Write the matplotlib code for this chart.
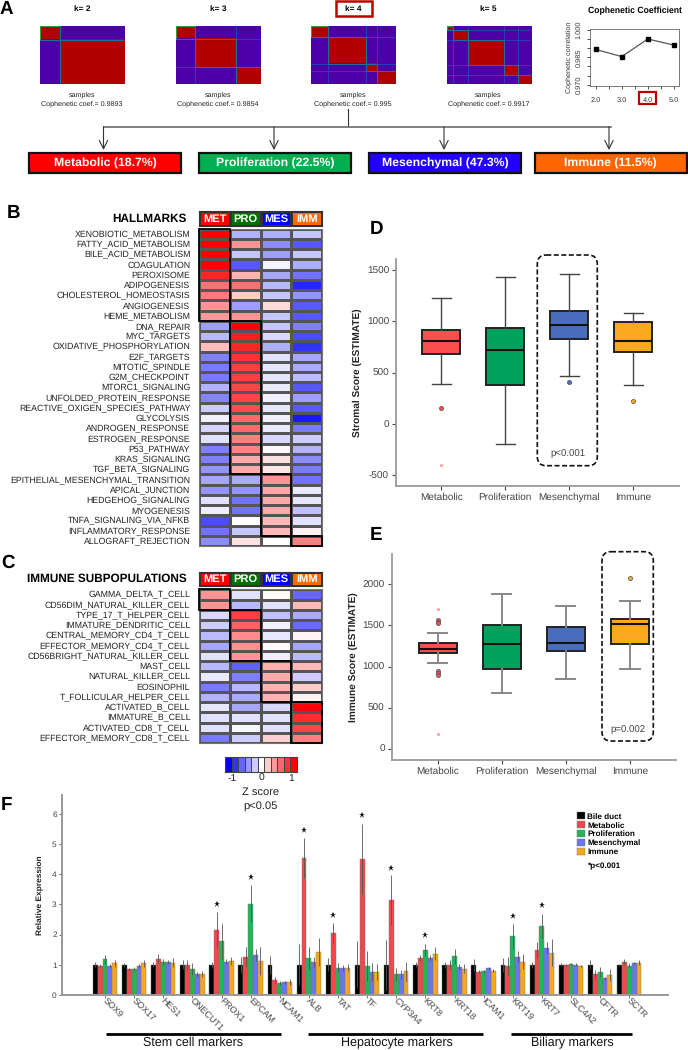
import numpy as np
import matplotlib
matplotlib.use('Agg')
import matplotlib.pyplot as plt
from matplotlib.colors import ListedColormap
from matplotlib.patches import Rectangle, FancyBboxPatch
from matplotlib.transforms import ScaledTranslation

plt.rcParams['font.family'] = ['Liberation Sans', 'DejaVu Sans']
plt.rcParams['axes.unicode_minus'] = False
plt.rcParams['text.hinting'] = 'none'

W, H = 688, 1050

# panel A
k_labels = ['k= 2', 'k= 3', 'k= 4', 'k= 5']
k_sizes = [[24, 76], [22, 49, 29], [20, 45, 13, 22], [8, 17, 43, 17, 15]]
coph_coef = [0.9893, 0.9854, 0.995, 0.9917]
coph_text = ['0.9893', '0.9854', '0.995', '0.9917']
coph_k = [2.0, 3.0, 4.0, 5.0]
subtypes = ['Metabolic', 'Proliferation', 'Mesenchymal', 'Immune']
subtype_pct = [18.7, 22.5, 47.3, 11.5]
subtype_colors = ['#ff0000', '#00b050', '#2200ff', '#ff6600']

# panels B and C
short_names = ['MET', 'PRO', 'MES', 'IMM']
header_colors = ['#ff0000', '#007000', '#0000ff', '#ff6a00']
hallmarks = ['XENOBIOTIC_METABOLISM', 'FATTY_ACID_METABOLISM', 'BILE_ACID_METABOLISM', 'COAGULATION',
             'PEROXISOME', 'ADIPOGENESIS', 'CHOLESTEROL_HOMEOSTASIS', 'ANGIOGENESIS', 'HEME_METABOLISM',
             'DNA_REPAIR', 'MYC_TARGETS', 'OXIDATIVE_PHOSPHORYLATION', 'E2F_TARGETS', 'MITOTIC_SPINDLE',
             'G2M_CHECKPOINT', 'MTORC1_SIGNALING', 'UNFOLDED_PROTEIN_RESPONSE',
             'REACTIVE_OXIGEN_SPECIES_PATHWAY', 'GLYCOLYSIS', 'ANDROGEN_RESPONSE', 'ESTROGEN_RESPONSE',
             'P53_PATHWAY', 'KRAS_SIGNALING', 'TGF_BETA_SIGNALING', 'EPITHELIAL_MESENCHYMAL_TRANSITION',
             'APICAL_JUNCTION', 'HEDGEHOG_SIGNALING', 'MYOGENESIS', 'TNFA_SIGNALING_VIA_NFKB',
             'INFLAMMATORY_RESPONSE', 'ALLOGRAFT_REJECTION']
hallmark_z = [[1.0, -.3, -.32, -.22], [1.0, .42, -.45, -.65], [1.0, -.22, -.38, -.22], [1.0, -.65, -.04, -.32],
              [.85, .3, -.35, -.55], [.55, .55, -.28, -.85], [.52, .2, -.22, -.42], [.42, -.38, .15, -.65],
              [.4, .42, -.22, -.65], [-.38, 1.0, -.22, -.5], [-.28, .88, -.15, -.7], [.25, .85, -.32, -.8],
              [-.5, .8, -.12, -.35], [-.52, .75, -.1, -.33], [-.52, .75, -.1, -.26], [-.3, .72, -.08, -.65],
              [-.48, .72, -.06, -.38], [-.2, .7, -.1, -.65], [-.05, .58, -.06, -.9], [-.17, .58, -.08, -.52],
              [-.12, .5, -.15, -.2], [-.5, .48, .03, -.3], [-.5, .33, .12, -.45], [-.42, .33, .1, -.52],
              [-.35, -.33, .42, -.55], [-.42, -.42, .35, -.08], [-.12, -.55, .33, -.1], [-.07, -.55, .33, -.25],
              [-.7, 0, .28, -.12], [-.55, -.22, .28, .05], [-.45, .12, 0, .5]]
hallmark_blocks = [(0, 0, 9), (1, 9, 15), (2, 24, 6), (3, 30, 1)]
immune_cells = ['GAMMA_DELTA_T_CELL', 'CD56DIM_NATURAL_KILLER_CELL', 'TYPE_17_T_HELPER_CELL',
                'IMMATURE_DENDRITIC_CELL', 'CENTRAL_MEMORY_CD4_T_CELL', 'EFFECTOR_MEMORY_CD4_T_CELL',
                'CD56BRIGHT_NATURAL_KILLER_CELL', 'MAST_CELL', 'NATURAL_KILLER_CELL', 'EOSINOPHIL',
                'T_FOLLICULAR_HELPER_CELL', 'ACTIVATED_B_CELL', 'IMMATURE_B_CELL', 'ACTIVATED_CD8_T_CELL',
                'EFFECTOR_MEMORY_CD8_T_CELL']
immune_z = [[.42, -.12, .02, -.6], [.42, -.28, -.12, .28], [-.15, .75, -.25, -.33], [-.2, .62, -.05, -.58],
            [-.27, .45, -.1, .05], [-.35, .43, .02, -.35], [-.12, .42, -.07, -.27], [-.28, -.62, .32, .28],
            [-.08, -.5, .33, -.2], [-.52, -.28, .3, .2], [-.3, -.33, .3, .05], [-.1, -.35, -.15, 1.0],
            [-.12, -.12, -.12, .82], [-.12, -.03, -.12, .72], [-.52, -.2, .18, .5]]
immune_blocks = [(0, 0, 2), (1, 2, 5), (2, 7, 4), (3, 11, 4)]
zbar_levels = [-1.0, -.8, -.6, -.4, -.2, 0, .2, .4, .6, .8, 1.0]

# panels D and E: whislo, q1, median, q3, whishi
box_colors = ['#f9504e', '#00a15c', '#4a6dbb', '#fba91f']
stromal_stats = [[393, 685, 805, 919, 1227], [-192, 377, 718, 938, 1429],
                 [471, 831, 964, 1101, 1458], [377, 705, 808, 997, 1084]]
stromal_out = [[153], [], [409], [221]]
stromal_far = [-403]
immune_stats = [[1047, 1164, 1217, 1286, 1404], [678, 970, 1270, 1509, 1878],
                [844, 1185, 1286, 1481, 1740], [966, 1278, 1513, 1578, 1797]]
immune_out = [[1566, 1542, 1525, 941, 917, 900], [], [], [2077]]
immune_far = [1696, 183]

# panel F
genes = ['SOX9', 'SOX17', 'HES1', 'ONECUT1', 'PROX1', 'EPCAM', 'NCAM1', 'ALB', 'TAT', 'TF', 'CYP3A4',
         'KRT8', 'KRT18', 'ICAM1', 'KRT19', 'KRT7', 'SLC4A2', 'CFTR', 'SCTR']
expr_groups = ['Bile duct', 'Metabolic', 'Proliferation', 'Mesenchymal', 'Immune']
expr_colors = ['#000000', '#f2484b', '#27b35a', '#6a75f0', '#f5a623']
bile = [1] * 19
metabolic = [.95, .85, 1.2, .98, 2.15, 1.25, .5, 4.55, 2.05, 4.52, 3.15, 1.23, 1.0, .77, .95, 1.48, .98, .68, 1.1]
proliferation = [1.18, .85, 1.1, .87, 1.77, 3.03, .38, 1.22, .9, .95, .68, 1.5, 1.28, .78, 1.95, 2.3, 1.02, .75, .97]
mesenchymal = [.97, .97, 1.1, .68, 1.1, 1.33, .42, 1.1, .9, .77, .68, 1.22, .93, .88, 1.27, 1.54, 1.0, .55, 1.05]
immune_expr = [1.05, 1.05, 1.07, .7, 1.12, 1.12, .42, 1.43, .9, .75, .78, 1.37, .87, .8, 1.1, 1.4, .96, .67, 1.07]
bile_err = [.08, .07, .08, .14, .1, .27, .3, .68, .22, .77, .83, .08, .1, .2, .23, .1, .04, .15, .03]
met_err = [.07, .05, .14, .16, .6, .33, .1, .66, .33, 1.17, .82, .1, .16, .05, .3, .27, .05, .15, .1]
pro_err = [.15, .06, .1, .2, .58, .62, .07, .38, .15, .5, .22, .2, .25, .05, .4, .4, .05, .17, .07]
mes_err = [.06, .05, .07, .08, .08, .2, .05, .17, .1, .3, .15, .1, .1, .05, .17, .2, .04, .05, .05]
imm_err = [.12, .12, .16, .1, .12, .45, .1, .47, .12, .27, .32, .2, .15, .05, .25, .45, .04, .2, .07]
star_gene = [4, 5, 7, 8, 9, 10, 11, 14, 15]
star_group = [1, 2, 1, 1, 1, 1, 2, 2, 2]
star_y = [3.02, 3.9, 5.47, 2.65, 5.98, 4.21, 1.99, 2.63, 2.99]
marker_sets = ['Stem cell markers', 'Hepatocyte markers', 'Biliary markers']


def px_axes(fig, x0, y0, x1, y1):
    # axes from pixel box, y measured from the top of the image
    return fig.add_axes([x0 / W, 1 - y1 / H, (x1 - x0) / W, (y1 - y0) / H])


fig = plt.figure(figsize=(W / 100, H / 100), dpi=100)

ov = fig.add_axes([0, 0, 1, 1], zorder=10)
ov.set_xlim(0, W)
ov.set_ylim(H, 0)
ov.axis('off')

for letter, x, y in [('A', 0, 9.5), ('B', 7, 213), ('C', 1, 563), ('D', 370, 229), ('E', 370, 535), ('F', 1, 805)]:
    ov.text(x, y, letter, fontsize=13.5, fontweight='bold', va='center', ha='left')

# --- A: consensus maps
consensus_cmap = ListedColormap(['#4b00a8', '#b00000'])
map_left = [40, 176, 311, 446.5]
for i, sizes in enumerate(k_sizes):
    ax = px_axes(fig, map_left[i], 25.7, map_left[i] + 84.5, 84)
    labels = np.repeat(np.arange(len(sizes)), sizes)
    ax.imshow(labels[:, None] == labels[None, :], cmap=consensus_cmap, aspect='auto',
              interpolation='nearest', extent=(0, 100, 100, 0))
    edges = np.cumsum(sizes)
    starts = edges - np.array(sizes)
    for e in edges[:-1]:
        ax.axhline(e, color='#1c55c4', lw=0.5)
        ax.axvline(e, color='#1c55c4', lw=0.5)
    for s, n in zip(starts, sizes):
        ax.add_patch(Rectangle((s, s), n, n, fill=False, ec='#3aa030', lw=0.8))
    ax.set_xticks([])
    ax.set_yticks([])
    for sp in ax.spines.values():
        sp.set_visible(False)
    cx = map_left[i] + 42
    ov.text(cx, 9.3, k_labels[i], fontsize=6, fontweight='bold', ha='center', va='center')
    ov.text(cx, 95, 'samples', fontsize=5.1, ha='center', va='center', color='#222222')
    ov.text(cx, 103.7, 'Cophenetic coef.= ' + coph_text[i], fontsize=5.1, ha='center', va='center', color='#222222')
ov.add_patch(Rectangle((335.5, 1), 36, 14.7, fill=False, ec='#c00000', lw=1.8))

ax = px_axes(fig, 590, 29.3, 679, 85.7)
ax.plot(coph_k, coph_coef, color='#555555', lw=0.9, marker='s', ms=3.2, mfc='black', mec='black')
ax.set_xlim(1.78, 5.2)
ax.set_ylim(0.9695, 1.0003)
ax.set_xticks(coph_k)
ax.set_xticks([2.5, 3.5, 4.5], minor=True)
ax.set_xticklabels(['2.0', '3.0', '4.0', '5.0'])
ax.set_yticks([0.97, 0.985, 1.0])
ax.set_yticks([0.975, 0.98, 0.99, 0.995], minor=True)
ax.set_yticklabels(['0.970', '0.985', '1.000'], rotation=90, va='center')
ax.tick_params(labelsize=5.3, length=2, width=0.6, colors='#333333')
ax.tick_params(axis='x', pad=6)
ax.tick_params(axis='y', pad=4)
ax.tick_params(which='minor', length=2, width=0.6, colors='#333333')
for sp in ax.spines.values():
    sp.set_linewidth(0.6)
    sp.set_color('#666666')
ax.set_ylabel('Cophenetic correlation', fontsize=5.1, labelpad=2.5, color='#333333')
ov.text(635, 11, 'Cophenetic Coefficient', fontsize=6.2, fontweight='bold', ha='center', va='center')
ov.add_patch(Rectangle((638.6, 91.7), 17.4, 12.3, fill=False, ec='#c00000', lw=1.6))

ov.plot([348, 348], [109.3, 126.7], color='#333333', lw=0.8)
ov.plot([103.5, 610.5], [126.7, 126.7], color='#777777', lw=1.3)
for x in [103.5, 274, 444, 609]:
    ov.annotate('', xy=(x, 150), xytext=(x, 126.7),
                arrowprops=dict(arrowstyle='->', color='#333333', lw=0.8, mutation_scale=15,
                                shrinkA=0, shrinkB=0))
box_left = [29, 199, 369, 534.6]
for i, name in enumerate(subtypes):
    ov.add_patch(Rectangle((box_left[i], 152.7), 152, 20.6, fc=subtype_colors[i], ec='#111111', lw=1.6))
    ov.text(box_left[i] + 76, 163.3, '%s (%.1f%%)' % (name, subtype_pct[i]), color='white',
            fontsize=8.8, fontweight='bold', ha='center', va='center')


# --- B and C: heatmaps
def heat_panel(values, row_names, blocks, head_y, body_y, title):
    head = px_axes(fig, 199.3, head_y[0], 322, head_y[1])
    head.pcolormesh(np.arange(4)[None, :], cmap=ListedColormap(header_colors), edgecolors='#333333', linewidth=0.9)
    head.set_xticks([])
    head.set_yticks([])
    for sp in head.spines.values():
        sp.set_color('#333333')
    for j, s in enumerate(short_names):
        head.text(j + 0.5, 0.47, s, color='white', fontsize=8, fontweight='bold', ha='center', va='center')
    ov.text(187, sum(head_y) / 2, title, fontsize=8.5, fontweight='bold', ha='right', va='center')

    ax = px_axes(fig, 199.3, body_y[0], 322, body_y[1])
    ax.pcolormesh(np.array(values), cmap='bwr', vmin=-1, vmax=1, edgecolors='#555555', linewidth=0.8)
    ax.set_ylim(len(values), 0)
    ax.set_xticks([])
    ax.set_yticks(np.arange(len(row_names)) + 0.5)
    ax.set_yticklabels(row_names, fontsize=6.35, color='#222222')
    ax.tick_params(length=0, pad=6.5)
    for sp in ax.spines.values():
        sp.set_color('#777777')
    for col, row, n in blocks:
        ax.add_patch(Rectangle((col, row), 1, n, fill=False, ec='black', lw=1.3, clip_on=False, zorder=5))


heat_panel(hallmark_z, hallmarks, hallmark_blocks, (211, 226), (228.7, 546), 'HALLMARKS')
heat_panel(immune_z, immune_cells, immune_blocks, (571.7, 585.7), (589.3, 743), 'IMMUNE SUBPOPULATIONS')

ax = px_axes(fig, 225, 757, 297, 772)
ax.pcolormesh(np.array(zbar_levels)[None, :], cmap='bwr', vmin=-1, vmax=1, edgecolors='#444444', linewidth=0.7)
ax.set_xticks([])
ax.set_yticks([])
for sp in ax.spines.values():
    sp.set_color('#444444')
for t, x in [('-1', 231.7), ('0', 261), ('1', 290.7)]:
    ov.text(x, 778.5, t, fontsize=7.5, ha='center', va='center', color='#222222')
ov.text(260.7, 792, 'Z score', fontsize=8, ha='center', va='center', color='#222222')
ov.text(260.7, 805.7, 'p<0.05', fontsize=8, ha='center', va='center', color='#222222')


# --- D and E: boxplots
def box_panel(box, stats, out, far, ylabel, whisk_style):
    bxp_stats = [dict(whislo=s[0], q1=s[1], med=s[2], q3=s[3], whishi=s[4], fliers=f) for s, f in zip(stats, out)]
    parts = box.bxp(bxp_stats, positions=range(4), widths=0.6, patch_artist=True,
                    medianprops=dict(color='#111111', lw=1.5),
                    boxprops=dict(edgecolor='#222222', lw=1.4),
                    whiskerprops=whisk_style, capprops=whisk_style,
                    flierprops=dict(marker='o', ms=3, mec='#555555', mew=0.5))
    for b, c in zip(parts['boxes'], box_colors):
        b.set_facecolor(c)
    for f, c in zip(parts['fliers'], box_colors):
        f.set_markerfacecolor(c)
    box.plot([0] * len(far), far, ls='none', marker='*', ms=3.5, color='#fb8a8a', mew=0)
    box.set_xticks(range(4))
    box.set_xticklabels(subtypes)
    box.tick_params(labelsize=7.2, colors='#444444', length=3, width=0.8, pad=2)
    box.spines[['top', 'right']].set_visible(False)
    box.spines[['left', 'bottom']].set_color('#999999')
    box.spines[['left', 'bottom']].set_linewidth(1.3)
    box.set_ylabel(ylabel, fontsize=7.3, fontweight='bold', color='#222222')


ax = px_axes(fig, 396, 259, 679, 486)
box_panel(ax, stromal_stats, stromal_out, stromal_far, 'Stromal Score (ESTIMATE)', dict(color='#444444', lw=1))
ax.set_xlim(-0.708, 3.715)
ax.set_ylim((424 - 486) / 51.3 * 500, (424 - 259) / 51.3 * 500)
ax.set_yticks([-500, 0, 500, 1000, 1500])
ax.yaxis.set_label_coords((361.7 - 396) / 283, 0.5)
ov.add_patch(FancyBboxPatch((537.3, 255), 60, 210.7, boxstyle='round,pad=0,rounding_size=9',
                            fill=False, ec='#111111', ls=(0, (3, 1.5)), lw=1.2))
ov.text(568, 454, 'p<0.001', fontsize=6.9, ha='center', va='center', color='#444444')

ax = px_axes(fig, 391.7, 554, 676, 760)
box_panel(ax, immune_stats, immune_out, immune_far, 'Immune Score (ESTIMATE)', dict(color='#888888', lw=1.4))
ax.set_xlim(-0.72, 3.72)
ax.set_ylim((748.7 - 760) / 41.1 * 500, (748.7 - 554) / 41.1 * 500)
ax.set_yticks([0, 500, 1000, 1500, 2000])
ax.yaxis.set_label_coords((358 - 391.7) / 284.3, 0.5)
ov.add_patch(FancyBboxPatch((602, 551.7), 51.3, 189.3, boxstyle='round,pad=0,rounding_size=9',
                            fill=False, ec='#111111', ls=(0, (3, 1.5)), lw=1.2))
ov.text(628, 730.7, 'p=0.002', fontsize=6.9, ha='center', va='center', color='#444444')

# --- F: relative expression bars
ax = px_axes(fig, 62.3, 795, 668, 994.7)
ax.set_xlim(-1.466, 19.33)
ax.set_ylim(0, 199.7 / 30.07)
series = [bile, metabolic, proliferation, mesenchymal, immune_expr]
errors = [bile_err, met_err, pro_err, mes_err, imm_err]
bar_w = 0.168
x = np.arange(len(genes))
for g, (vals, err) in enumerate(zip(series, errors)):
    ax.bar(x + (g - 2) * bar_w, vals, bar_w, color=expr_colors[g], label=expr_groups[g],
           edgecolor='#777777', linewidth=0.3, yerr=err,
           error_kw=dict(ecolor='#555555', elinewidth=0.6, capsize=0))
ax.plot(np.array(star_gene) + (np.array(star_group) - 2) * bar_w, star_y, ls='none',
        marker='*', ms=5, color='#111111', mew=0)
ax.set_yticks(range(7))
ax.set_xticks(x)
ax.set_xticklabels(genes, rotation=-45, ha='left', va='top', rotation_mode='anchor')
ax.tick_params(axis='x', labelsize=6.5, colors='#444444', length=2, width=0.5, pad=-0.5)
ax.tick_params(axis='y', labelsize=6, colors='#444444', length=2.5, width=0.6, pad=1.5)
for lab in ax.get_xticklabels():
    lab.set_transform(lab.get_transform() + ScaledTranslation(2 / 100, 0, fig.dpi_scale_trans))
ax.spines[['top', 'right']].set_visible(False)
ax.spines[['left', 'bottom']].set_color('#999999')
ax.spines[['left', 'bottom']].set_linewidth(1.4)
ax.set_ylabel('Relative Expression', fontsize=6, fontweight='bold', color='#222222')
ax.yaxis.set_label_coords((44.3 - 62.3) / 605.7, (994.7 - 895) / 199.7)
ax.legend(loc='upper left', bbox_to_anchor=(577, 812), bbox_transform=ov.transData, frameon=False,
          prop=dict(size=5.9, weight='bold'), handlelength=0.95, handleheight=1.0, handletextpad=0.3,
          labelspacing=0.1, borderpad=0, borderaxespad=0)
ov.text(587.7, 866.7, '*p<0.001', fontsize=5.9, fontweight='bold', va='center')

for name, x0, x1, tx in zip(marker_sets, [105.7, 307.7, 510.7], [281, 483.3, 631.7], [192.7, 397, 572]):
    ov.plot([x0, x1], [1034, 1034], color='black', lw=2, solid_capstyle='butt')
    ov.text(tx, 1042.7, name, fontsize=9, ha='center', va='center', color='#111111')

fig.savefig('out.png', dpi=100)
plt.close(fig)
